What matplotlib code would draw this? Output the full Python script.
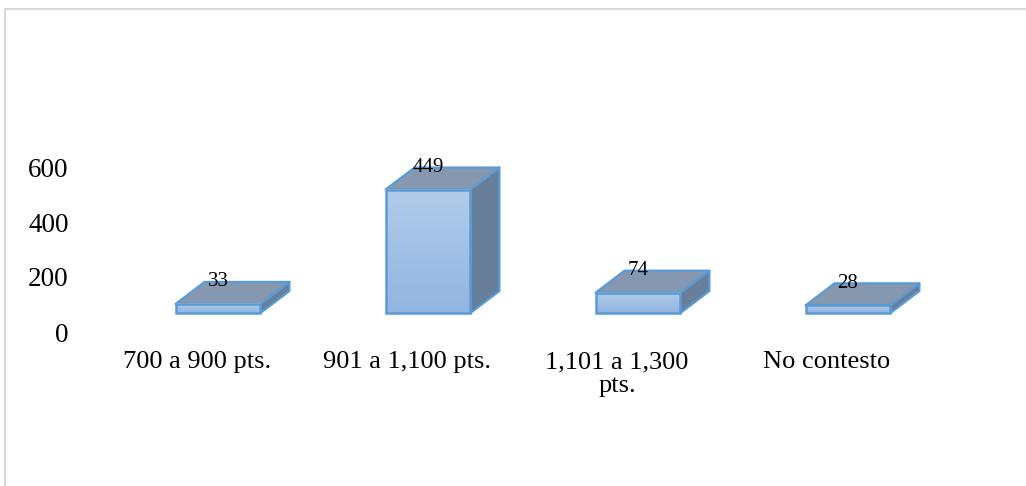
import matplotlib
matplotlib.use("Agg")
import matplotlib.pyplot as plt
import numpy as np
from matplotlib.patches import Polygon, Rectangle
from matplotlib.transforms import ScaledTranslation
from matplotlib.lines import Line2D

categories = ["700 a 900 pts.", "901 a 1,100 pts.", "1,101 a 1,300\npts.", "No contesto"]
values = [33, 449, 74, 28]
yticks = [0, 200, 400, 600]

W, H, DPI = 1026, 486, 100
fig = plt.figure(figsize=(W / DPI, H / DPI), dpi=DPI)
fig.patch.set_facecolor("white")
plt.rcParams["font.family"] = ["Liberation Serif", "DejaVu Serif"]

ax = fig.add_axes([113 / W, 154 / H, 840 / W, 165 / H])
ax.set_xlim(-0.5, 3.5)
ax.set_ylim(0, 600)
for s in ax.spines.values():
    s.set_visible(False)
ax.set_facecolor("none")

# oblique projection of the 3D bars
base = 69          # floor level of the front faces
half = 0.202       # half width of a bar
ddx, ddy = 0.138, 80  # depth offset

front_top = "#b1cbea"
front_bot = "#92b5e0"
top_col = "#8598b0"
side_col = "#687f9c"
edge_col = "#5b9bd5"

grad = np.linspace(0, 1, 256).reshape(-1, 1)
cmap = matplotlib.colors.LinearSegmentedColormap.from_list("front", [front_bot, front_top])

x = np.arange(len(values))
for xi, v in zip(x, values):
    x0, x1 = xi - half, xi + half
    y0, y1 = base, base + v
    # side face
    side = Polygon([(x1, y0), (x1 + ddx, y0 + ddy), (x1 + ddx, y1 + ddy), (x1, y1)],
                   closed=True, facecolor=side_col, edgecolor=edge_col, lw=1.6,
                   joinstyle="round", clip_on=False, zorder=2)
    ax.add_patch(side)
    # top face
    top = Polygon([(x0, y1), (x0 + ddx, y1 + ddy), (x1 + ddx, y1 + ddy), (x1, y1)],
                  closed=True, facecolor=top_col, edgecolor=edge_col, lw=1.6,
                  joinstyle="round", clip_on=False, zorder=2)
    ax.add_patch(top)
    # front face with vertical gradient
    rect = Rectangle((x0, y0), 2 * half, v, facecolor="none", edgecolor=edge_col,
                     lw=1.8, clip_on=False, zorder=4)
    ax.add_patch(rect)
    im = ax.imshow(grad, cmap=cmap, origin="lower", aspect="auto",
                   extent=(x0, x1, y0, y1), zorder=3, clip_on=False)
    im.set_clip_path(rect)
    ax.text(xi, y1 + ddy, str(v), ha="center", va="center", fontsize=15,
            color="#000000", zorder=5)

ax.set_xlim(-0.5, 3.5)
ax.set_ylim(0, 600)

ax.set_yticks(yticks)
ax.set_yticklabels([str(t) for t in yticks], fontsize=19.5)
ax.tick_params(axis="y", length=0, pad=32)

ax.set_xticks(x)
ax.set_xticklabels(categories, fontsize=19, linespacing=1.1)
ax.tick_params(axis="x", length=0, pad=14)
shift = ScaledTranslation(-21 / DPI, 0, fig.dpi_scale_trans)
for lab in ax.get_xticklabels():
    lab.set_transform(lab.get_transform() + shift)

# chart area border (left and top edges visible)
fig.add_artist(Line2D([4.5 / W, 4.5 / W], [0, 1 - 9.5 / H], color="#d9d9d9", lw=1.5,
                      transform=fig.transFigure))
fig.add_artist(Line2D([4.5 / W, 1], [1 - 9.5 / H, 1 - 9.5 / H], color="#d9d9d9", lw=1.5,
                      transform=fig.transFigure))

fig.savefig("out.png", dpi=DPI, facecolor="white")
